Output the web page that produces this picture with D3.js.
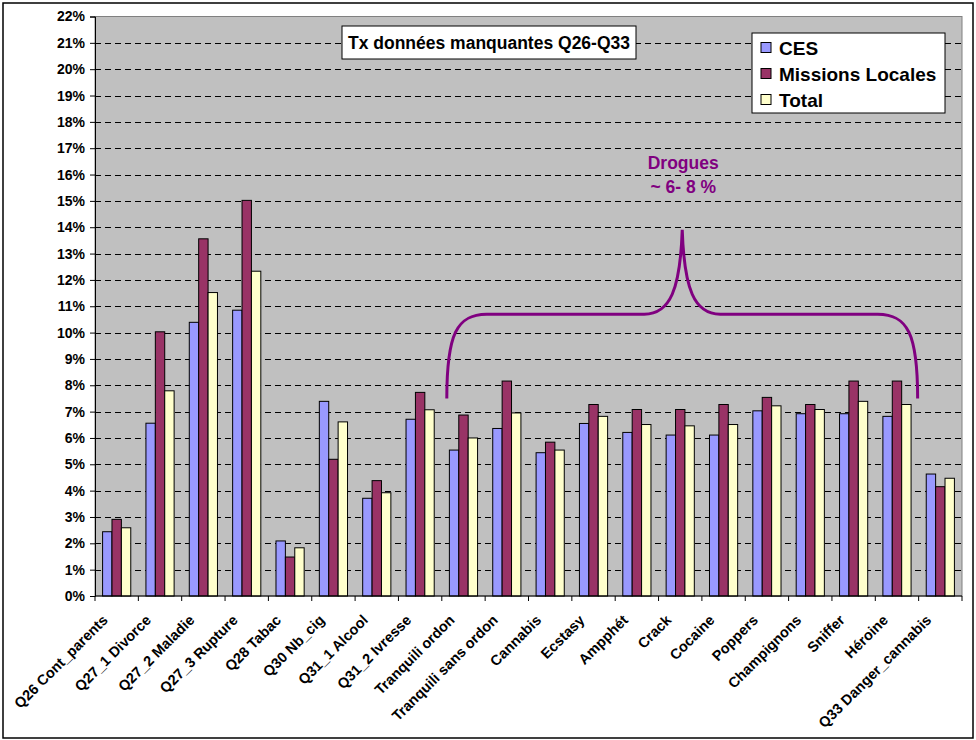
<html>
<head>
<script src="https://d3js.org/d3.v7.min.js"></script>
<style>
  body { margin: 0; background: #fff; }
  text { font-family: Arial, "Liberation Sans", sans-serif; font-weight: bold; }
</style>
</head>
<body>
<svg width="976" height="740"></svg>
<script>
var categories = ["Q26 Cont_parents", "Q27_1 Divorce", "Q27_2 Maladie", "Q27_3 Rupture",
  "Q28 Tabac", "Q30 Nb_cig", "Q31_1 Alcool", "Q31_2 Ivresse", "Tranquili ordon",
  "Tranquili sans ordon", "Cannabis", "Ecstasy", "Ampphét", "Crack", "Cocaine",
  "Poppers", "Champignons", "Sniffer", "Héroine", "Q33 Danger_cannabis"];

var seriesNames = ["CES", "Missions Locales", "Total"];
var seriesColors = ["#9999FF", "#993366", "#FFFFCC"];

// values in %
var ces      = [2.44, 6.56, 10.39, 10.85, 2.09, 7.39, 3.71, 6.71, 5.54, 6.36, 5.44, 6.55, 6.21, 6.11, 6.11, 7.03, 6.92, 6.92, 6.82, 4.63];
var missions = [2.91, 10.03, 13.56, 15.02, 1.48, 5.19, 4.38, 7.73, 6.87, 8.16, 5.84, 7.27, 7.08, 7.08, 7.27, 7.54, 7.27, 8.16, 8.16, 4.15];
var total    = [2.59, 7.79, 11.52, 12.33, 1.83, 6.61, 3.92, 7.07, 6.00, 6.95, 5.54, 6.82, 6.51, 6.46, 6.51, 7.22, 7.08, 7.39, 7.27, 4.47];

var yTicks = d3.range(0, 23); // 0% .. 22%

var title = "Tx données manquantes Q26-Q33";
var noteLines = ["Drogues", "~ 6- 8 %"];
// brace over the drug categories (in data units)
var braceFrom = "Tranquili ordon", braceTo = "Héroine";
var braceEnd = 7.5, braceBar = 10.7, braceTip = 13.9;

var svg = d3.select("svg");

// outer frame
svg.append("rect").attr("x", 3).attr("y", 3).attr("width", 970).attr("height", 735)
  .attr("fill", "#fff").attr("stroke", "#000").attr("stroke-width", 1.5);

var plotLeft = 95, plotRight = 962, plotTop = 16.5, plotBottom = 596;

var x0 = d3.scaleBand().domain(categories).range([plotLeft, plotRight])
  .paddingInner(0.35).paddingOuter(0.175);
var x1 = d3.scaleBand().domain(seriesNames).range([0, x0.bandwidth()]);
var y = d3.scaleLinear().domain([0, 22]).range([plotBottom, plotTop]);

// plot background
svg.append("rect").attr("x", plotLeft).attr("y", plotTop)
  .attr("width", plotRight - plotLeft).attr("height", plotBottom - plotTop)
  .attr("fill", "#C0C0C0").attr("stroke", "#808080").attr("stroke-width", 1);

// grid
svg.append("g").selectAll("line").data(yTicks.filter(d => d > 0 && d < 22)).enter()
  .append("line")
  .attr("x1", plotLeft).attr("x2", plotRight)
  .attr("y1", d => Math.round(y(d)) + 0.5).attr("y2", d => Math.round(y(d)) + 0.5)
  .attr("stroke", "#000").attr("stroke-dasharray", "6,4");

// y axis
var yAxis = d3.axisLeft(y).tickValues(yTicks).tickFormat(d => d + "%").tickSize(5).tickPadding(5);
var gy = svg.append("g").attr("transform", "translate(" + plotLeft + ",0)").call(yAxis);
gy.selectAll("text").attr("font-size", 14).attr("fill", "#000")
  .style("font-family", "Arial, 'Liberation Sans', sans-serif").style("font-weight", "bold");
gy.select(".domain").attr("stroke", "#000");
gy.selectAll(".tick line").attr("stroke", "#000");

// bars
var rows = categories.map((c, i) => ({ cat: c, vals: [ces[i], missions[i], total[i]] }));
var groups = svg.append("g").selectAll("g").data(rows).enter()
  .append("g").attr("transform", d => "translate(" + x0(d.cat) + ",0)");
groups.selectAll("rect").data(d => d.vals.map((v, k) => ({ k: k, v: v }))).enter()
  .append("rect")
  .attr("x", d => x1(seriesNames[d.k]))
  .attr("y", d => y(d.v))
  .attr("width", x1.bandwidth())
  .attr("height", d => y(0) - y(d.v))
  .attr("fill", d => seriesColors[d.k])
  .attr("stroke", "#000").attr("stroke-width", 1);

// x axis line + ticks at category boundaries
var step = x0.step();
svg.append("line").attr("x1", plotLeft).attr("x2", plotRight).attr("y1", plotBottom).attr("y2", plotBottom)
  .attr("stroke", "#000").attr("stroke-width", 1);
svg.append("g").selectAll("line").data(d3.range(categories.length + 1)).enter()
  .append("line")
  .attr("x1", i => plotLeft + i * step).attr("x2", i => plotLeft + i * step)
  .attr("y1", plotBottom).attr("y2", plotBottom + 5)
  .attr("stroke", "#000");

// x labels
svg.append("g").selectAll("text").data(categories).enter()
  .append("text")
  .attr("transform", d => "translate(" + (x0(d) + x0.bandwidth() / 2 - 8) + "," + 621 + ") rotate(-45)")
  .attr("text-anchor", "end")
  .attr("font-size", 14.5)
  .text(d => d);

// title box
var tb = svg.append("g");
tb.append("rect").attr("x", 342).attr("y", 26).attr("width", 294).attr("height", 33)
  .attr("fill", "#fff").attr("stroke", "#000");
tb.append("text").attr("x", 489).attr("y", 49).attr("text-anchor", "middle")
  .attr("font-size", 17.5).text(title);

// legend
var lg = svg.append("g").attr("transform", "translate(752,33)");
lg.append("rect").attr("width", 193).attr("height", 80).attr("fill", "#fff").attr("stroke", "#000");
var li = lg.selectAll("g").data(seriesNames).enter().append("g")
  .attr("transform", (d, i) => "translate(9," + (14.5 + i * 26) + ")");
li.append("rect").attr("x", 0).attr("y", -5).attr("width", 10).attr("height", 10)
  .attr("fill", (d, i) => seriesColors[i]).attr("stroke", "#000");
li.append("text").attr("x", 18).attr("y", 7).attr("font-size", 19).text(d => d);

// brace annotation
var purple = "#800080";
var bx0 = x0(braceFrom) - step * x0.paddingInner() / 2 + 5;
var bx1 = x0(braceTo) + x0.bandwidth() + step * x0.paddingInner() / 2 - 1;
var bxm = (bx0 + bx1) / 2;
var yEnd = y(braceEnd), yBar = y(braceBar), yTip = y(braceTip);
var p = d3.path();
p.moveTo(bx0, yEnd);
p.bezierCurveTo(bx0, yBar + 20, bx0 + 10, yBar, bx0 + 40, yBar);
p.lineTo(bxm - 38, yBar);
p.bezierCurveTo(bxm - 12, yBar, bxm - 2, yBar - 25, bxm, yTip);
p.bezierCurveTo(bxm + 2, yBar - 25, bxm + 12, yBar, bxm + 38, yBar);
p.lineTo(bx1 - 40, yBar);
p.bezierCurveTo(bx1 - 10, yBar, bx1, yBar + 20, bx1, yEnd);
svg.append("path").attr("d", p.toString()).attr("fill", "none")
  .attr("stroke", purple).attr("stroke-width", 3);

svg.append("g").selectAll("text").data(noteLines).enter()
  .append("text")
  .attr("x", bxm + 1).attr("y", (d, i) => y(16.2) + i * 24)
  .attr("text-anchor", "middle").attr("font-size", 17.5).attr("fill", purple)
  .text(d => d);
</script>
</body>
</html>
